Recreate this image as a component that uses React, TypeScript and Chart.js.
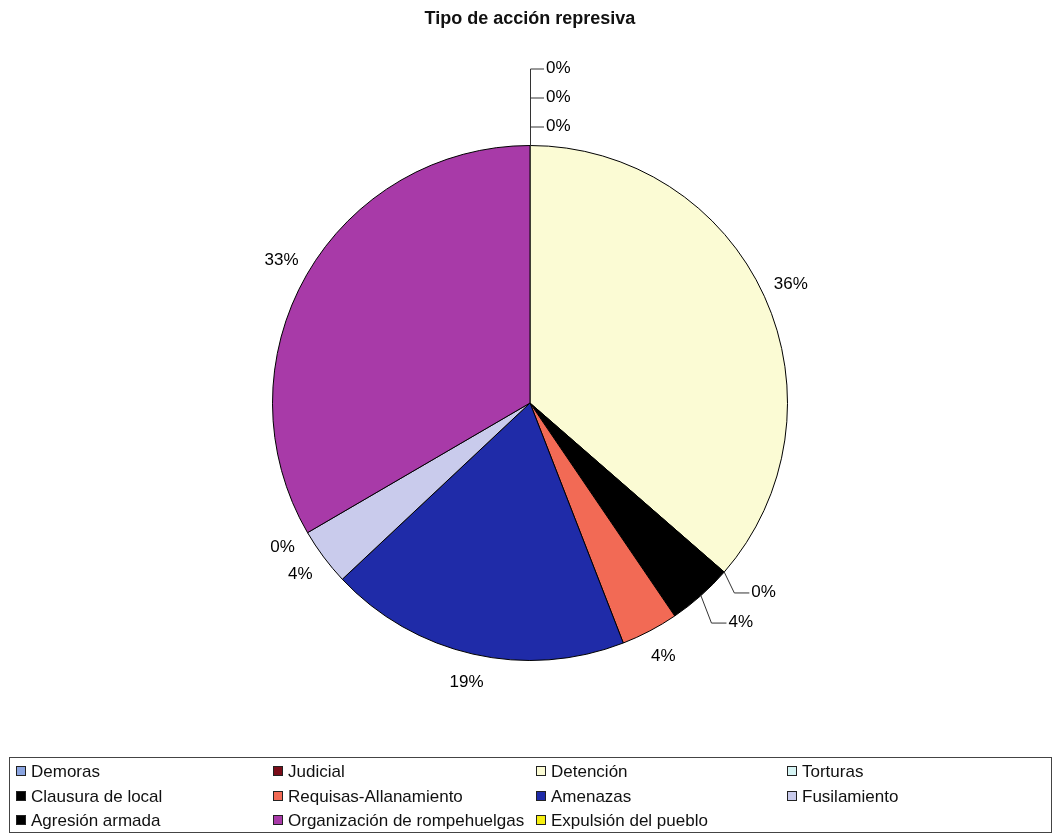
import React, { useEffect, useRef } from "react";
import { Chart, registerables } from "chart.js";

Chart.register(...registerables);

const TITLE = "Tipo de acción represiva";

const categories = [
  "Demoras",
  "Judicial",
  "Detención",
  "Torturas",
  "Clausura de local",
  "Requisas-Allanamiento",
  "Amenazas",
  "Fusilamiento",
  "Agresión armada",
  "Organización de rompehuelgas",
  "Expulsión del pueblo",
];

// share of each type of repressive action (percent)
const shares = [0, 0, 36.4, 0, 4.1, 3.6, 18.9, 3.6, 0, 33.4, 0];

const colors = [
  "#8aa4e0",
  "#7a0c18",
  "#fbfbd4",
  "#d6f4f4",
  "#000000",
  "#f26a55",
  "#1f2ba8",
  "#c9cbec",
  "#000000",
  "#a83aa8",
  "#f5ee10",
];

type Placement =
  | { mode: "radial" }
  | { mode: "stack"; slot: number }
  | { mode: "leader"; dx: number; dy: number };

const labelPlacement: Placement[] = [
  { mode: "stack", slot: 2 },
  { mode: "stack", slot: 1 },
  { mode: "radial" },
  { mode: "leader", dx: 6, dy: 2 },
  { mode: "leader", dx: 9, dy: 6 },
  { mode: "radial" },
  { mode: "radial" },
  { mode: "radial" },
  { mode: "radial" },
  { mode: "radial" },
  { mode: "stack", slot: 0 },
];

const FONT = '"Liberation Sans", Arial, sans-serif';

const decorPlugin = {
  id: "decor",
  beforeDraw(chart: any) {
    const ctx = chart.ctx;
    ctx.save();
    ctx.fillStyle = "#ffffff";
    ctx.fillRect(0, 0, chart.width, chart.height);
    ctx.restore();
  },
  afterDraw(chart: any) {
    const ctx: CanvasRenderingContext2D = chart.ctx;
    const meta = chart.getDatasetMeta(0);
    const total = shares.reduce((a, b) => a + b, 0);
    ctx.save();

    // title
    ctx.fillStyle = "#111";
    ctx.font = `bold 18px ${FONT}`;
    ctx.textAlign = "center";
    ctx.textBaseline = "middle";
    ctx.fillText(TITLE, 530, 19);

    // data labels
    ctx.font = `17px ${FONT}`;
    ctx.fillStyle = "#000";
    ctx.strokeStyle = "#333";
    ctx.lineWidth = 1;
    meta.data.forEach((arc: any, i: number) => {
      const { x, y, startAngle, endAngle, outerRadius } = arc.getProps(
        ["x", "y", "startAngle", "endAngle", "outerRadius"],
        true
      );
      const R = outerRadius;
      const mid = (startAngle + endAngle) / 2;
      const text = Math.round((shares[i] / total) * 100) + "%";
      const p = labelPlacement[i];
      if (p.mode === "radial") {
        const lx = x + Math.cos(mid) * (R + 29);
        const ly = y + Math.sin(mid) * (R + 29);
        ctx.textAlign = "center";
        ctx.fillText(text, lx, ly);
      } else if (p.mode === "stack") {
        const ex = x + Math.cos(mid) * R;
        const ey = y + Math.sin(mid) * R;
        const ly = ey - 19 - p.slot * 29;
        ctx.beginPath();
        ctx.moveTo(ex + 0.5, ey);
        ctx.lineTo(ex + 0.5, ly + 0.5);
        ctx.lineTo(ex + 14, ly + 0.5);
        ctx.stroke();
        ctx.textAlign = "left";
        ctx.fillText(text, ex + 16, ly);
      } else {
        const nx = x + Math.cos(mid) * (R + 28);
        const ny = y + Math.sin(mid) * (R + 28);
        const left = nx + p.dx;
        const ly = ny + p.dy;
        const ex = x + Math.cos(mid) * R;
        const ey = y + Math.sin(mid) * R;
        ctx.beginPath();
        ctx.moveTo(ex, ey);
        ctx.lineTo(left - 17, ly + 0.5);
        ctx.lineTo(left - 2, ly + 0.5);
        ctx.stroke();
        ctx.textAlign = "left";
        ctx.fillText(text, left, ly);
      }
    });

    // legend
    const colX = [16, 273, 536, 787];
    const rowY = [771, 796, 820];
    ctx.strokeStyle = "#444";
    ctx.lineWidth = 1;
    ctx.strokeRect(9.5, 757.5, 1042, 75);
    ctx.font = `17px ${FONT}`;
    ctx.textAlign = "left";
    ctx.textBaseline = "middle";
    categories.forEach((name, i) => {
      const cx = colX[i % 4];
      const cy = rowY[Math.floor(i / 4)];
      ctx.fillStyle = colors[i];
      ctx.fillRect(cx, cy - 5, 10, 10);
      ctx.strokeStyle = "#222";
      ctx.strokeRect(cx + 0.5, cy - 4.5, 9, 9);
      ctx.fillStyle = "#111";
      ctx.fillText(name, cx + 15, cy + 1);
    });

    ctx.restore();
  },
};

export default function App() {
  const ref = useRef<HTMLCanvasElement | null>(null);
  useEffect(() => {
    if (!ref.current) return;
    const chart = new Chart(ref.current, {
      type: "pie",
      data: {
        labels: categories,
        datasets: [
          {
            data: shares,
            backgroundColor: colors,
            borderColor: "#000",
            borderWidth: 1,
          },
        ],
      },
      options: {
        responsive: false,
        maintainAspectRatio: false,
        animation: false,
        events: [],
        layout: { padding: { top: 145, bottom: 173, left: 272, right: 268 } },
        plugins: {
          legend: { display: false },
          title: { display: false },
          tooltip: { enabled: false },
        },
      },
      plugins: [decorPlugin],
    });
    return () => chart.destroy();
  }, []);
  return (
    <div style={{ position: "fixed", left: 0, top: 0, width: 1056, height: 834, background: "#fff" }}>
      <canvas ref={ref} width={1056} height={834} style={{ display: "block" }} />
    </div>
  );
}
